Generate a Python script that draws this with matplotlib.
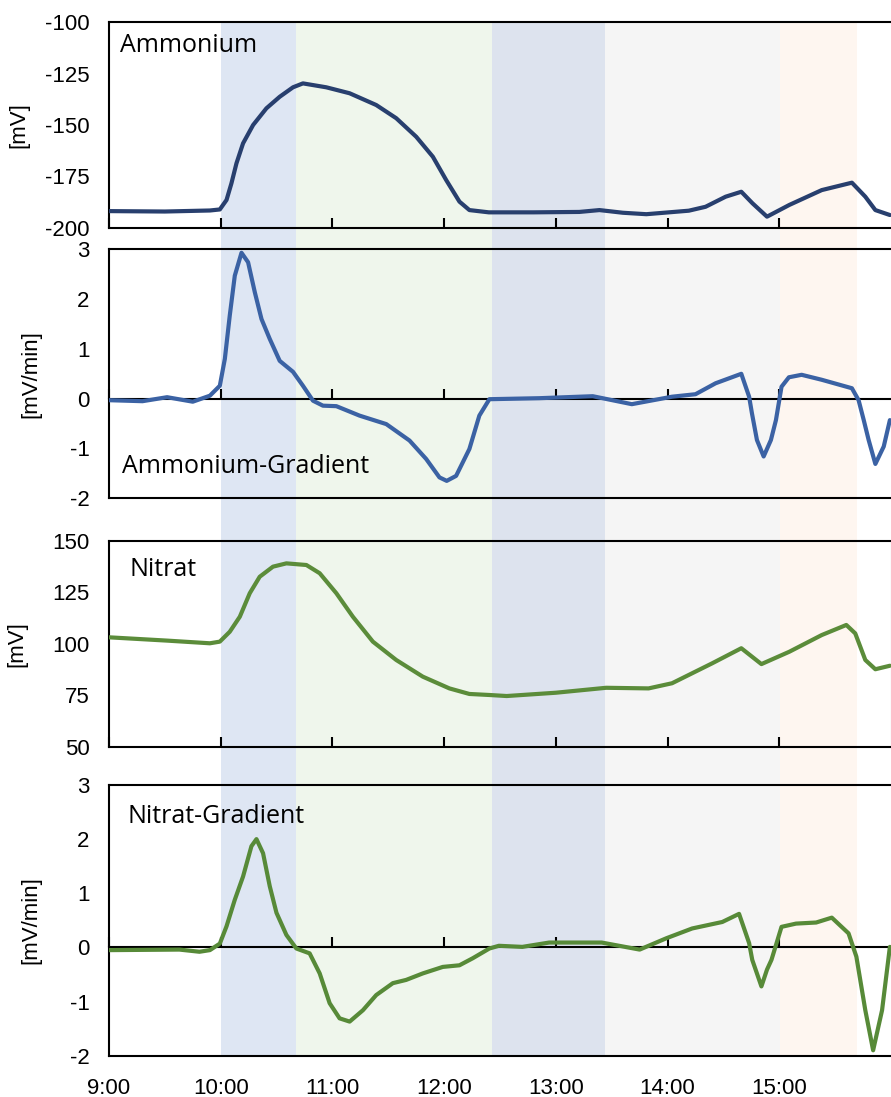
import matplotlib
matplotlib.use("Agg")
import matplotlib.pyplot as plt

plt.rcParams['font.family'] = ['Liberation Sans', 'DejaVu Sans']

# time axis in hours (9.0 = 9:00)
xticks = [9, 10, 11, 12, 13, 14, 15]
xticklabels = ['9:00', '10:00', '11:00', '12:00', '13:00', '14:00', '15:00']

# shaded phases
band_start = [10.0, 10.67, 12.43, 13.44, 15.01]
band_end = [10.67, 12.43, 13.44, 15.01, 15.70]
band_colors = ['#dee6f3', '#eff6ec', '#dde3ee', '#f5f5f5', '#fef6f0']

# Ammonium [mV]
amm_t = [9.00, 9.50, 9.903, 9.992, 10.052, 10.096, 10.141, 10.200, 10.290, 10.409, 10.528,
         10.647, 10.736, 10.945, 11.154, 11.392, 11.571, 11.750, 11.899, 12.018, 12.137,
         12.226, 12.40, 12.80, 13.21, 13.39, 13.60, 13.81, 14.19, 14.34, 14.52, 14.66,
         14.76, 14.89, 15.09, 15.38, 15.65, 15.77, 15.86, 15.99]
amm_v = [-191.8, -192.0, -191.5, -191.0, -186.4, -178.3, -168.6, -158.9, -150.0, -141.9, -136.3,
         -131.7, -129.8, -131.7, -134.6, -140.3, -146.7, -155.7, -165.4, -176.7, -187.2,
         -191.3, -192.4, -192.4, -192.2, -191.3, -192.6, -193.3, -191.6, -189.7, -184.8, -182.4,
         -188.0, -194.5, -188.8, -181.6, -178.0, -184.8, -191.3, -193.7]

# Ammonium gradient [mV/min]
ammg_t = [9.00, 9.30, 9.52, 9.75, 9.903, 9.992, 10.037, 10.081, 10.126, 10.186, 10.245,
          10.305, 10.365, 10.439, 10.528, 10.647, 10.736, 10.826, 10.915, 11.035, 11.243,
          11.482, 11.690, 11.839, 11.958, 12.023, 12.107, 12.226, 12.315, 12.405, 12.85,
          13.33, 13.68, 14.04, 14.25, 14.43, 14.66, 14.73, 14.755, 14.80, 14.86, 14.925,
          14.97, 15.02, 15.086, 15.20, 15.38, 15.65, 15.71, 15.756, 15.80, 15.86, 15.935, 15.99]
ammg_v = [-0.03, -0.05, 0.03, -0.06, 0.06, 0.26, 0.80, 1.67, 2.47, 2.93, 2.74,
          2.14, 1.60, 1.20, 0.76, 0.54, 0.26, -0.04, -0.14, -0.15, -0.34,
          -0.51, -0.84, -1.21, -1.58, -1.65, -1.55, -1.01, -0.34, -0.01, 0.01,
          0.05, -0.11, 0.04, 0.09, 0.31, 0.50, 0.04, -0.29, -0.83, -1.16, -0.83,
          -0.43, 0.24, 0.43, 0.48, 0.38, 0.21, -0.03, -0.43, -0.83, -1.31, -0.96, -0.43]

# Nitrat [mV]
nit_t = [9.00, 9.52, 9.903, 9.992, 10.081, 10.171, 10.260, 10.349, 10.468, 10.588, 10.767,
         10.886, 11.035, 11.183, 11.362, 11.571, 11.809, 12.047, 12.226, 12.405, 12.56,
         13.00, 13.45, 13.83, 14.04, 14.40, 14.66, 14.84, 15.09, 15.38, 15.60, 15.68,
         15.77, 15.86, 15.99]
nit_v = [103.1, 101.5, 100.2, 101.0, 105.8, 113.1, 124.5, 132.5, 137.4, 139.0, 138.2,
         134.2, 124.5, 113.1, 101.0, 92.1, 84.0, 78.3, 75.6, 75.1, 74.6,
         76.2, 78.6, 78.3, 80.8, 90.5, 97.8, 90.1, 96.1, 104.2, 109.1, 105.0,
         92.1, 87.6, 89.3]

# Nitrat gradient [mV/min]
nitg_t = [9.00, 9.63, 9.81, 9.903, 9.992, 10.052, 10.126, 10.200, 10.275, 10.320, 10.379,
          10.439, 10.499, 10.588, 10.677, 10.796, 10.886, 10.975, 11.064, 11.154, 11.273,
          11.392, 11.541, 11.660, 11.809, 11.988, 12.137, 12.256, 12.405, 12.49, 12.70,
          12.94, 13.41, 13.75, 13.99, 14.22, 14.49, 14.64, 14.73, 14.758, 14.84, 14.89,
          14.93, 15.02, 15.15, 15.33, 15.47, 15.62, 15.69, 15.77, 15.84, 15.92, 15.99]
nitg_v = [-0.05, -0.04, -0.08, -0.05, 0.07, 0.39, 0.88, 1.31, 1.87, 2.00, 1.74,
          1.13, 0.64, 0.23, -0.02, -0.11, -0.48, -1.03, -1.31, -1.37, -1.16,
          -0.88, -0.66, -0.60, -0.48, -0.36, -0.33, -0.20, -0.02, 0.03, 0.01,
          0.09, 0.09, -0.04, 0.17, 0.35, 0.47, 0.62, 0.08, -0.23, -0.72, -0.41,
          -0.23, 0.38, 0.44, 0.46, 0.55, 0.26, -0.17, -1.16, -1.90, -1.16, 0.01]

W, H = 891, 1097
fig = plt.figure(figsize=(W / 100, H / 100), dpi=100)

left = 109 / W
width = 1 - left
# (top px, bottom px) of each panel
panels_px = [(22, 228), (249.3, 498.3), (540.7, 746.7), (785, 1055.7)]

def rect(top, bottom):
    return [left, 1 - bottom / H, width, (bottom - top) / H]

# background with phase bands running through all panels
bg = fig.add_axes(rect(panels_px[0][0], panels_px[-1][1]), zorder=0)
bg.set_xlim(9, 16)
bg.axis('off')
for s, e, c in zip(band_start, band_end, band_colors):
    bg.axvspan(s, e, color=c, lw=0)

series = [
    (amm_t, amm_v, '#283f6e', (-200, -100), [-200, -175, -150, -125, -100], '[mV]', -0.102, False),
    (ammg_t, ammg_v, '#3b62a4', (-2, 3), [-2, -1, 0, 1, 2, 3], '[mV/min]', -0.086, True),
    (nit_t, nit_v, '#5b8c3a', (50, 150), [50, 75, 100, 125, 150], '[mV]', -0.105, False),
    (nitg_t, nitg_v, '#578a38', (-2, 3), [-2, -1, 0, 1, 2, 3], '[mV/min]', -0.087, True),
]

for i, ((top, bot), (t, v, col, ylim, yt, ylab, lx, zero_axis)) in enumerate(zip(panels_px, series)):
    ax = fig.add_axes(rect(top, bot), zorder=1)
    ax.patch.set_alpha(0)
    ax.plot(t, v, color=col, lw=3.0, solid_capstyle='round', solid_joinstyle='round', zorder=3)
    ax.set_xlim(9, 16)
    ax.set_ylim(*ylim)
    ax.set_yticks(yt)
    ax.set_yticklabels([str(y) for y in yt])
    ax.tick_params(axis='y', length=0, pad=14, labelsize=16)
    ax.set_ylabel(ylab, fontsize=16)
    ax.yaxis.set_label_coords(lx, 0.5)
    for sp in ['top', 'bottom', 'left']:
        ax.spines[sp].set_linewidth(1.5)
    ax.spines['right'].set_visible(i == 2)
    ax.spines['right'].set_color('#bbbbbb')
    ax.set_xticks(xticks)
    if zero_axis:
        ax.tick_params(axis='x', length=0, labelsize=16, pad=16)
        sec = ax.secondary_xaxis(0.4)
        sec.set_xticks(xticks)
        sec.tick_params(axis='x', direction='in', length=7, width=1.5, labelbottom=False)
        sec.spines['bottom'].set_linewidth(1.5)
    else:
        ax.tick_params(axis='x', direction='in', length=7, width=1.5, labelsize=16)
    if i < 3:
        ax.tick_params(axis='x', labelbottom=False)
    else:
        ax.set_xticklabels(xticklabels)

label_font = ['Open Sans', 'DejaVu Sans']
fig.text(120 / W, 1 - 45 / H, 'Ammonium', fontsize=18, va='center', family=label_font)
fig.text(122 / W, 1 - 466.7 / H, 'Ammonium-Gradient', fontsize=18, va='center', family=label_font)
fig.text(130 / W, 1 - 570 / H, 'Nitrat', fontsize=18, va='center', family=label_font)
fig.text(128 / W, 1 - 816.7 / H, 'Nitrat-Gradient', fontsize=18, va='center', family=label_font)

fig.savefig('out.png', dpi=100)
